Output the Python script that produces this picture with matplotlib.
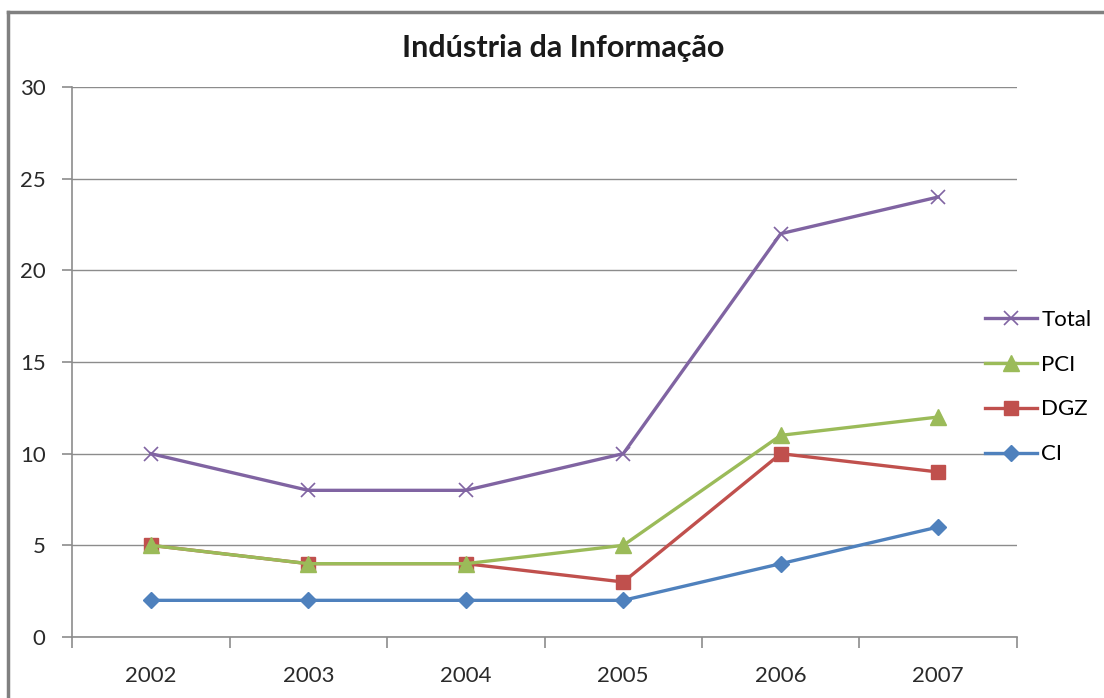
import matplotlib
matplotlib.use("Agg")
import matplotlib.pyplot as plt
from matplotlib.lines import Line2D

# Dados
anos = ["2002", "2003", "2004", "2005", "2006", "2007"]
total = [10, 8, 8, 10, 22, 24]
pci = [5, 4, 4, 5, 11, 12]
dgz = [5, 4, 4, 3, 10, 9]
ci = [2, 2, 2, 2, 4, 6]

plt.rcParams['font.family'] = ['Lato', 'DejaVu Sans']

fig = plt.figure(figsize=(11.04, 6.98), dpi=100)
ax = fig.add_axes([72 / 1104, 1 - 637 / 698, (1017 - 72) / 1104, (637 - 87) / 698])

x = list(range(len(anos)))
cinza = '#8c8c8c'

l_ci, = ax.plot(x, ci, color='#4F81BD', lw=2.4, marker='D', ms=8, label='CI', zorder=3)
l_dgz, = ax.plot(x, dgz, color='#C0504D', lw=2.4, marker='s', ms=10, label='DGZ', zorder=4)
l_pci, = ax.plot(x, pci, color='#9BBB59', lw=2.4, marker='^', ms=11, label='PCI', zorder=5)
l_total, = ax.plot(x, total, color='#8064A2', lw=2.4, marker='x', ms=10, mew=1.2, label='Total', zorder=6)

ax.set_xlim(-0.5, len(anos) - 0.5)
ax.set_ylim(0, 30)
ax.set_yticks(range(0, 31, 5))
ax.set_xticks(x)
ax.set_xticklabels(anos)
ax.set_xticks([i - 0.5 for i in range(len(anos) + 1)], minor=True)

ax.grid(axis='y', color=cinza, lw=1)
ax.set_axisbelow(True)
for s in ['top', 'right']:
    ax.spines[s].set_visible(False)
for s in ['left', 'bottom']:
    ax.spines[s].set_color(cinza)
    ax.spines[s].set_linewidth(1.2)

ax.tick_params(axis='x', which='major', length=0, pad=21, labelsize=16, colors='#2a2a2a')
ax.tick_params(axis='x', which='minor', length=8, color=cinza, width=1.2)
ax.tick_params(axis='y', length=7, color=cinza, width=1.2, pad=12, labelsize=16, labelcolor='#2a2a2a')

fig.suptitle('Indústria da Informação', x=563 / 1104, y=1 - 48 / 698, va='center',
             fontsize=22, fontweight='bold', color='#1a1a1a')

leg = fig.legend(handles=[l_total, l_pci, l_dgz, l_ci], loc='center left',
                 bbox_to_anchor=(985 / 1104, 1 - 387 / 698), frameon=False,
                 borderpad=0, borderaxespad=0,
                 fontsize=16, labelspacing=1.12, handlelength=2.36, handletextpad=0.18)

# moldura do gráfico (cortada à direita e embaixo)
fig.add_artist(Line2D([8 / 1104, 8 / 1104], [0, 1 - 12 / 698], color='#808080', lw=2.5))
fig.add_artist(Line2D([8 / 1104, 1], [1 - 12 / 698, 1 - 12 / 698], color='#808080', lw=2.5))

fig.savefig('out.png', dpi=100)
